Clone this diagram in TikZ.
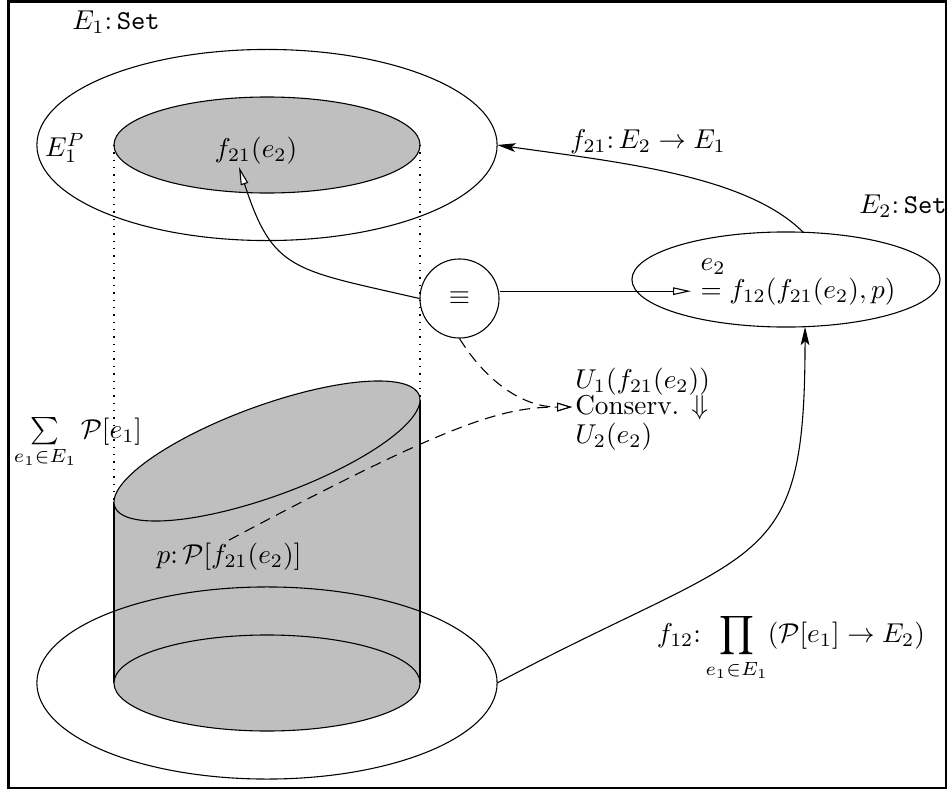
\documentclass[tikz,border=0pt]{standalone}
\usetikzlibrary{shapes.geometric,arrows.meta}
\begin{document}
\begin{tikzpicture}[x=0.0129cm,y=0.0129cm,line width=0.4pt,
  openarrow/.style={-{Triangle[length=6.6pt,width=2.8pt,fill=white]}},
  dasharrow/.style={dash pattern=on 4pt off 2.5pt,-{Triangle[length=5.5pt,width=3.2pt,fill=white]}},
  blackarrow/.style={-{Stealth[length=6.8pt,width=3.2pt,inset=1.5pt]}},
  dotline/.style={dash pattern=on 0.5pt off 2.2pt},
  setell/.style={draw,ellipse,inner sep=0pt,outer sep=0pt},
  lbl/.style={inner sep=1pt}]
\useasboundingbox (0,0) rectangle (948,791);
\draw[line width=0.9pt] (8.5,789.5) rectangle (946,3);
% top sets
\node[setell,minimum width=5.934cm,minimum height=2.464cm] (E1) at (267,646) {};
\node[setell,fill=lightgray,minimum width=3.947cm,minimum height=1.238cm] (E1P) at (267,646) {};
% cylinder
\fill[lightgray] (114,108) -- (114,289)
  -- plot[domain=180:360,samples=91,variable=\t] ({267+153*cos(\t)},{340+48*sin(\t)+51*cos(\t)})
  -- (420,108) arc[start angle=0,end angle=-180,x radius=1.974cm,y radius=0.619cm] -- cycle;
\draw (114,108) -- (114,289) (420,108) -- (420,391);
\draw[fill=lightgray] plot[domain=0:360,samples=121,variable=\t] ({267+153*cos(\t)},{340+48*sin(\t)+51*cos(\t)}) -- cycle;
\node[setell,fill=lightgray,minimum width=3.947cm,minimum height=1.238cm] (B1P) at (267,108) {};
\node[setell,minimum width=5.934cm,minimum height=2.477cm] (B1) at (267,108) {};
\draw[dotline] (114,646) -- (114,289) (420,646) -- (420,391);
% equivalence circle and E2
\node[draw,circle,minimum size=1.019cm,inner sep=0pt] (eq) at (459.5,492.5) {$\equiv$};
\node[setell,minimum width=3.973cm,minimum height=1.226cm] (E2) at (786,511.5) {};
\node[anchor=base west] (e2a) at (691,521) {$e_2$};
\node[anchor=base west] (e2b) at (691,493) {$=f_{12}(f_{21}(e_2),p)$};
% conservation text
\node[lbl,anchor=base west] (u1) at (572,403) {$U_1(f_{21}(e_2))$};
\node[lbl,anchor=base west] (cons) at (572,377) {Conserv. $\Downarrow$};
\node[lbl,anchor=base west] (u2) at (572,348) {$U_2(e_2)$};
% labels
\node (E1lab) at (116,769) {$E_1\colon\mathtt{Set}$};
\node (E1Plab) at (65,643) {$E_1^P$};
\node (f21lab) at (256,640) {$f_{21}(e_2)$};
\node (f21E) at (648,649) {$f_{21}\colon E_2\to E_1$};
\node (E2lab) at (903,585) {$E_2\colon\mathtt{Set}$};
\node (sumlab) at (78,348) {$\sum\limits_{e_1\in E_1}\mathcal{P}[e_1]$};
\node[lbl] (plab) at (229,234) {$p\colon\mathcal{P}[f_{21}(e_2)]$};
\node (f12lab) at (791,143.5) {$f_{12}\colon\displaystyle\prod_{e_1\in E_1}(\mathcal{P}[e_1]\to E_2)$};
\coordinate (f21tip) at (239,624);
% connectors
\draw[openarrow] (eq.west) .. controls +(167:130) and +(-72:110) .. (f21tip);
\draw[openarrow] (eq.east |- e2b.west) -- (e2b.west);
\draw[blackarrow] (E2.70) .. controls +(135:80) and +(-8:125) .. (E1.east);
\draw[blackarrow] (B1.east) .. controls +(28:300) and +(-90:250) .. (E2.-68);
\draw[dasharrow] (eq.south) .. controls +(-58:50) and +(-50,0) .. (cons.west);
\draw[dasharrow] (plab.north) .. controls +(28:250) and +(-70,0) .. (cons.west);
\end{tikzpicture}
\end{document}
